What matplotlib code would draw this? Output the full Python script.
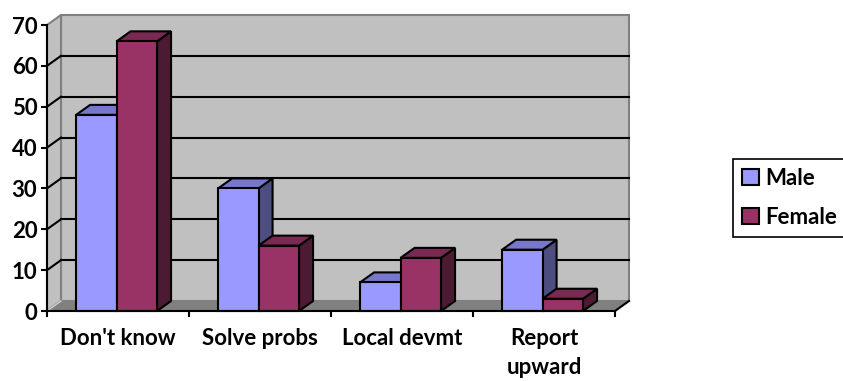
import matplotlib
matplotlib.use("Agg")
import matplotlib.pyplot as plt
from matplotlib.patches import Polygon, Rectangle, Patch
from matplotlib.lines import Line2D

# ---- data ----
categories = ["Don't know", "Solve probs", "Local devmt", "Report\nupward"]
male = [48, 30, 7, 15]
female = [66, 16, 13, 3]
series_names = ["Male", "Female"]
y_ticks = [0, 10, 20, 30, 40, 50, 60, 70]

# ---- style ----
plt.rcParams["font.family"] = ["Lato", "DejaVu Sans"]
plt.rcParams["font.weight"] = "bold"
FS = 16

colors = {
    "Male": ("#9999FF", "#7777CC", "#4D4D80"),    # front, top, side
    "Female": ("#993366", "#7A2952", "#4D1A33"),
}

W, H, DPI = 843, 381, 100
fig = plt.figure(figsize=(W / DPI, H / DPI), dpi=DPI)
fig.patch.set_facecolor("white")

# front plane of the plot area (pixels)
left, right, bottom, top = 47, 615, 311, 25
ax = fig.add_axes([left / W, 1 - bottom / H, (right - left) / W, (bottom - top) / H])
n = len(categories)
x0, x1 = -0.5, n - 0.5
ymax = y_ticks[-1]
ax.set_xlim(x0, x1)
ax.set_ylim(0, ymax)
ax.patch.set_visible(False)

# depth of the 3-D box: 14 px right, 10 px up, expressed in data units
ddx = 14 * (x1 - x0) / (right - left)
ddy = 10 * ymax / (bottom - top)

LW = 1.5
wall_kw = dict(closed=True, clip_on=False, joinstyle="miter")

# back wall
ax.add_patch(Polygon([(x0 + ddx, ddy), (x1 + ddx, ddy), (x1 + ddx, ymax + ddy), (x0 + ddx, ymax + ddy)],
                     fc="#C0C0C0", ec="#808080", lw=LW, zorder=0.5, **wall_kw))
# side wall
ax.add_patch(Polygon([(x0, 0), (x0 + ddx, ddy), (x0 + ddx, ymax + ddy), (x0, ymax)],
                     fc="#C0C0C0", ec="#808080", lw=LW, zorder=0.6, **wall_kw))
# gridlines on back wall and side wall
for v in y_ticks[1:-1]:
    ax.add_line(Line2D([x0 + ddx, x1 + ddx], [v + ddy, v + ddy], color="black", lw=LW,
                       clip_on=False, zorder=0.7))
    ax.add_line(Line2D([x0, x0 + ddx], [v, v + ddy], color="black", lw=LW,
                       clip_on=False, zorder=0.7))
# floor
ax.add_patch(Polygon([(x0, 0), (x1, 0), (x1 + ddx, ddy), (x0 + ddx, ddy)],
                     fc="#808080", ec="none", zorder=0.8, **wall_kw))
ax.add_line(Line2D([x0, x0 + ddx], [0, ddy], color="#D0D0D0", lw=1.0, clip_on=False, zorder=0.85))
ax.add_line(Line2D([x1, x1 + ddx], [0, ddy], color="black", lw=LW, clip_on=False, zorder=3))


def bar3d(xa, xb, h, cols, z):
    front, topc, side = cols
    kw = dict(ec="black", lw=LW, clip_on=False, joinstyle="miter", zorder=z)
    ax.add_patch(Polygon([(xb, 0), (xb + ddx, ddy), (xb + ddx, h + ddy), (xb, h)], fc=side, **kw))
    ax.add_patch(Polygon([(xa, h), (xb, h), (xb + ddx, h + ddy), (xa + ddx, h + ddy)], fc=topc, **kw))
    ax.add_patch(Rectangle((xa, 0), xb - xa, h, fc=front, **kw))


bw = 0.285
shift = -0.01
for i in range(n):
    c = i + shift
    bar3d(c - bw, c, male[i], colors["Male"], 1 + i * 0.1)
    bar3d(c, c + bw, female[i], colors["Female"], 1.05 + i * 0.1)

# axes
for s in ("top", "right"):
    ax.spines[s].set_visible(False)
for s in ("left", "bottom"):
    ax.spines[s].set_color("black")
    ax.spines[s].set_linewidth(LW)
    ax.spines[s].set_zorder(3)

ax.set_yticks(y_ticks)
ax.set_yticklabels([str(t) for t in y_ticks], fontsize=FS, fontweight="bold")
ax.tick_params(axis="y", direction="out", length=4, width=LW, pad=3)

ax.set_xticks([x0 + k for k in range(n + 1)])
ax.set_xticklabels([])
ax.tick_params(axis="x", which="major", direction="out", length=4, width=LW)
ax.set_xticks(range(n), minor=True)
ax.set_xticklabels(categories, minor=True, fontsize=FS, fontweight="bold", linespacing=1.5)
ax.tick_params(axis="x", which="minor", length=0, pad=12)
for lab in ax.get_xticklabels(minor=True):
    lab.set_verticalalignment("top")

# legend
handles = [Patch(fc=colors[s][0], ec="black", lw=LW) for s in series_names]
leg = fig.legend(handles, series_names, loc="upper left", bbox_to_anchor=(733 / W, 1 - 159 / H),
                 frameon=True, fancybox=False, framealpha=1, edgecolor="black",
                 prop=dict(size=16, weight="bold"), handlelength=0.75, handleheight=0.75,
                 handletextpad=0.3, borderpad=0.4, labelspacing=0.8, borderaxespad=0)
leg.get_frame().set_linewidth(1.2)

fig.savefig("out.png", dpi=DPI, facecolor="white")
